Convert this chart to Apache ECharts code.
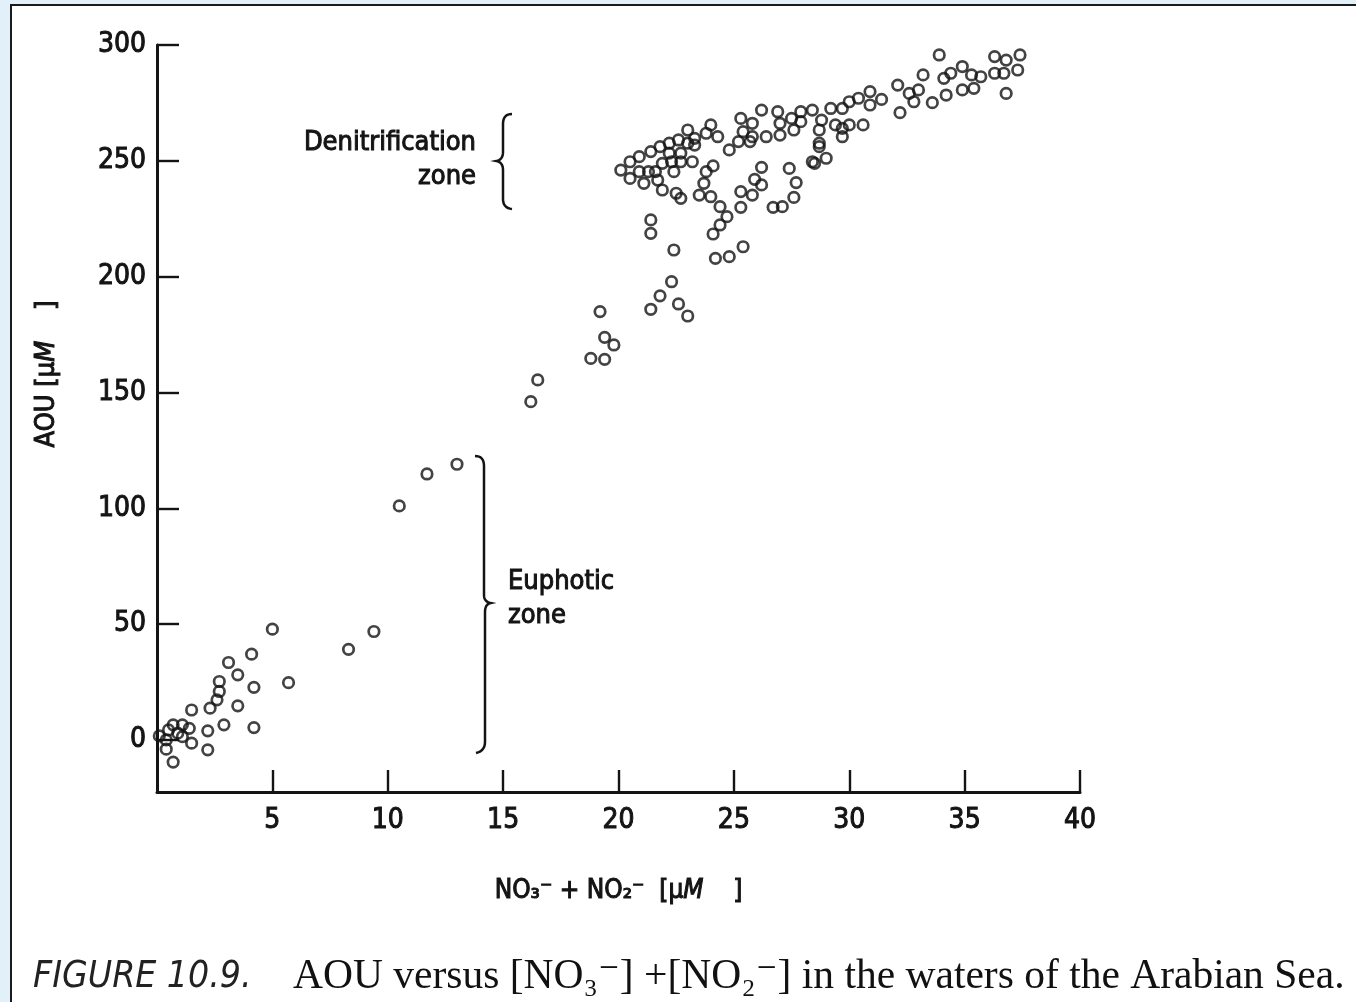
<!DOCTYPE html>
<html>
<head>
<meta charset="utf-8">
<script src="https://cdn.jsdelivr.net/npm/echarts@6.0.0/dist/echarts.min.js"></script>
<style>
html, body { margin: 0; padding: 0; }
body { width: 1356px; height: 1002px; background: #e2f0fa; position: relative; overflow: hidden; }
#panel { position: absolute; left: 10px; top: 4px; right: 0; bottom: 0; background: #fff;
  border-left: 2px solid #1b1b1b; border-top: 2px solid #1b1b1b; }
#chart { position: absolute; left: 0; top: 0; width: 1356px; height: 1002px; }
</style>
</head>
<body>
<div id="panel"></div>
<div id="chart"></div>
<script>
// NO3- + NO2- (uM) and AOU (uM)
const surfaceNitrate = [0.1, 0.4, 0.4, 0.7, 0.7, 1.1, 1.4, 1.1, 1.5, 0.9, 0.5, 1.5, 2.2, 2.2, 2.9,
  4.2, 2.3, 3.5, 2.6, 2.7, 2.7, 4.2, 5.7, 3.5, 3.1, 4.1, 5.0, 8.3, 9.4];
const surfaceAOU = [1.7, 0.0, -4.0, -9.6, 6.5, 6.5, 5.0, 1.4, -1.4, 2.9, 4.3, 12.9, 3.9, -4.3, 6.5,
  5.3, 13.7, 14.7, 17.3, 20.9, 25.2, 22.7, 24.7, 28.1, 33.4, 37.0, 47.8, 39.1, 46.8];

const midNitrate = [10.5, 11.7, 13.0, 16.2, 16.5, 18.8, 19.4, 19.4, 19.8, 19.2, 21.4, 21.8, 22.6, 23.0, 22.3];
const midAOU = [101.0, 114.8, 119.0, 146.0, 155.4, 164.7, 164.3, 173.8, 170.5, 184.9, 185.9, 191.7, 188.2, 183.0, 197.8];

const deepNitrate = [24.0, 24.3, 23.8, 23.3, 23.0, 22.6, 22.2, 21.8, 21.4, 20.9, 20.5, 20.1, 20.5, 20.9, 21.3,
  21.1, 21.9, 22.5, 22.7, 22.2, 22.7, 22.7, 23.2, 22.3, 21.9, 22.4, 21.7, 21.6, 23.3, 23.0,
  24.8, 24.1, 23.8, 23.7, 23.5, 24.0, 24.4, 24.7, 24.4, 24.1, 21.4, 21.4, 22.4, 24.2, 24.8,
  25.4, 26.2, 25.9, 26.2, 25.8, 25.3, 25.3, 27.4, 27.7, 27.6, 27.1, 26.7, 25.3, 25.8, 26.2,
  26.9, 27.0, 27.5, 27.9, 28.4, 25.4, 25.8, 25.2, 25.7, 26.4, 27.0, 27.6, 27.9, 28.4, 28.7,
  28.7, 29.2, 29.7, 30.0, 30.4, 30.9, 30.9, 31.4, 28.8, 29.4, 29.7, 30.0, 30.6, 29.7, 28.7,
  28.5, 29.0, 33.9, 33.2, 32.1, 32.6, 33.0, 32.8, 32.2, 33.6, 34.2, 34.1, 34.4, 34.9, 35.3,
  35.7, 34.9, 35.4, 36.3, 36.8, 37.4, 37.3, 36.3, 36.7, 36.8];
const deepAOU = [265.5, 260.4, 261.9, 259.7, 263.3, 259.0, 257.6, 256.1, 254.0, 251.8, 249.6, 246.0, 242.4, 245.3, 245.3,
  240.3, 237.4, 236.0, 233.8, 253.3, 253.3, 249.6, 249.6, 249.6, 248.9, 245.3, 241.7, 245.3, 256.8, 257.6,
  254.7, 247.8, 245.3, 240.3, 235.2, 234.5, 230.2, 225.9, 222.3, 218.4, 224.5, 218.7, 211.5, 207.9, 208.6,
  212.9, 247.2, 242.0, 239.6, 235.2, 236.7, 229.9, 246.7, 240.6, 234.2, 230.2, 229.9, 268.3, 266.2, 271.9,
  271.2, 266.2, 268.3, 271.2, 271.9, 262.6, 260.4, 258.3, 258.3, 260.4, 261.1, 263.3, 266.9, 249.6, 257.6,
  263.3, 272.6, 272.6, 275.5, 277.0, 279.9, 274.1, 276.5, 267.6, 265.5, 264.0, 265.5, 265.5, 260.4, 256.1,
  248.9, 251.1, 295.7, 287.1, 282.7, 279.1, 280.6, 275.5, 270.8, 275.1, 278.4, 285.6, 287.8, 290.7, 287.1,
  286.3, 280.6, 281.3, 295.0, 293.5, 295.7, 289.2, 287.8, 287.8, 279.1];

const xTicks = [5, 10, 15, 20, 25, 30, 35, 40];
const yTicks = [0, 50, 100, 150, 200, 250, 300];

const SANS = "'DejaVu Sans Condensed', 'Liberation Sans Narrow', 'DejaVu Sans', sans-serif";
const SERIF = "'Liberation Serif', 'DejaVu Serif', serif";
const INK = '#141414';

const zip = (xs, ys) => xs.map((x, i) => [x, ys[i]]);

const scatterStyle = {
  type: 'scatter',
  symbol: 'circle',
  symbolSize: 10.5,
  itemStyle: { color: 'rgba(255,255,255,0)', borderColor: INK, borderWidth: 2.7 },
  silent: true
};

// quadratic curve points for the braces
const quad = (p0, c, p1, n = 8) => {
  const pts = [];
  for (let i = 0; i <= n; i++) {
    const t = i / n;
    pts.push([
      (1 - t) * (1 - t) * p0[0] + 2 * (1 - t) * t * c[0] + t * t * p1[0],
      (1 - t) * (1 - t) * p0[1] + 2 * (1 - t) * t * c[1] + t * t * p1[1]
    ]);
  }
  return pts;
};
const brace = (pts) => ({
  type: 'polyline', shape: { points: pts },
  style: { fill: null, stroke: INK, lineWidth: 2.5 }, silent: true
});

const leftBrace = [].concat(
  quad([512, 114], [503, 114], [503, 124]),
  quad([503, 152], [503, 160], [496, 161]),
  quad([496, 161], [503, 162], [503, 170]),
  quad([503, 199], [503, 208], [512, 209])
);
const rightBrace = [].concat(
  quad([475, 456], [484, 456], [484, 466]),
  quad([484, 595], [484, 602], [491, 603]),
  quad([491, 603], [485, 604], [485, 612]),
  quad([485, 742], [485, 751], [476, 753])
);

const labelText = {
  color: INK, fontFamily: SANS, fontSize: 28,
  textBorderColor: INK, textBorderWidth: 1
};
const annot = { fontFamily: SANS, fontSize: 27, fill: INK, stroke: INK, lineWidth: 1 };

const option = {
  animation: false,
  backgroundColor: 'transparent',
  grid: { left: 157, top: 45, right: 276, bottom: 210 },
  xAxis: {
    type: 'value', min: 0, max: 40,
    axisLine: { onZero: false, lineStyle: { color: INK, width: 3 } },
    axisTick: { inside: true, length: 22, customValues: xTicks, lineStyle: { color: INK, width: 2.4 } },
    axisLabel: Object.assign({ customValues: xTicks, margin: 15 }, labelText),
    splitLine: { show: false },
    name: '{t|NO₃⁻ + NO₂⁻  [μ}{i|M}{t|    ]}',
    nameLocation: 'middle',
    nameGap: 86,
    nameTextStyle: {
      rich: {
        t: { fontFamily: SANS, fontSize: 26, color: INK, textBorderColor: INK, textBorderWidth: 1 },
        i: { fontFamily: SANS, fontSize: 26, fontStyle: 'italic', color: INK, textBorderColor: INK, textBorderWidth: 1 }
      }
    }
  },
  yAxis: {
    type: 'value', min: -22.5, max: 300,
    axisLine: { show: true, onZero: false, lineStyle: { color: INK, width: 3 } },
    axisTick: { show: true, inside: true, length: 22, customValues: yTicks, lineStyle: { color: INK, width: 2.4 } },
    axisLabel: Object.assign({ customValues: yTicks, margin: 11 }, labelText),
    splitLine: { show: false }
  },
  series: [
    Object.assign({ name: 'surface', data: zip(surfaceNitrate, surfaceAOU) }, scatterStyle),
    Object.assign({ name: 'mid', data: zip(midNitrate, midAOU) }, scatterStyle),
    Object.assign({ name: 'deep', data: zip(deepNitrate, deepAOU) }, scatterStyle)
  ],
  graphic: [
    {
      type: 'text', x: 47, y: 374, rotation: Math.PI / 2, silent: true,
      style: {
        text: '{t|AOU [μ}{i|M}{t|    ]}', align: 'center', verticalAlign: 'middle',
        rich: {
          t: { fontFamily: SANS, fontSize: 27, fill: INK, stroke: INK, lineWidth: 1 },
          i: { fontFamily: SANS, fontSize: 27, fontStyle: 'italic', fill: INK, stroke: INK, lineWidth: 1 }
        }
      }
    },
    {
      type: 'text', x: 476, y: 160, silent: true,
      style: Object.assign({
        text: 'Denitrification\nzone', align: 'right', verticalAlign: 'middle', lineHeight: 34
      }, annot)
    },
    {
      type: 'text', x: 508, y: 599, silent: true,
      style: Object.assign({
        text: 'Euphotic\nzone', align: 'left', verticalAlign: 'middle', lineHeight: 34
      }, annot)
    },
    brace(leftBrace),
    brace(rightBrace),
    {
      type: 'text', x: 33, y: 977, silent: true,
      style: {
        text: '{f|FIGURE 10.9.}{s|    AOU versus [NO₃⁻] +[NO₂⁻] in the waters of the Arabian Sea.}',
        verticalAlign: 'middle',
        rich: {
          f: { fontFamily: SANS, fontStyle: 'italic', fontSize: 37, fill: '#222' },
          s: { fontFamily: SERIF, fontSize: 41.5, fill: '#111' }
        }
      }
    }
  ]
};

const chart = echarts.init(document.getElementById('chart'), null, { renderer: 'canvas' });
chart.setOption(option);
</script>
</body>
</html>
